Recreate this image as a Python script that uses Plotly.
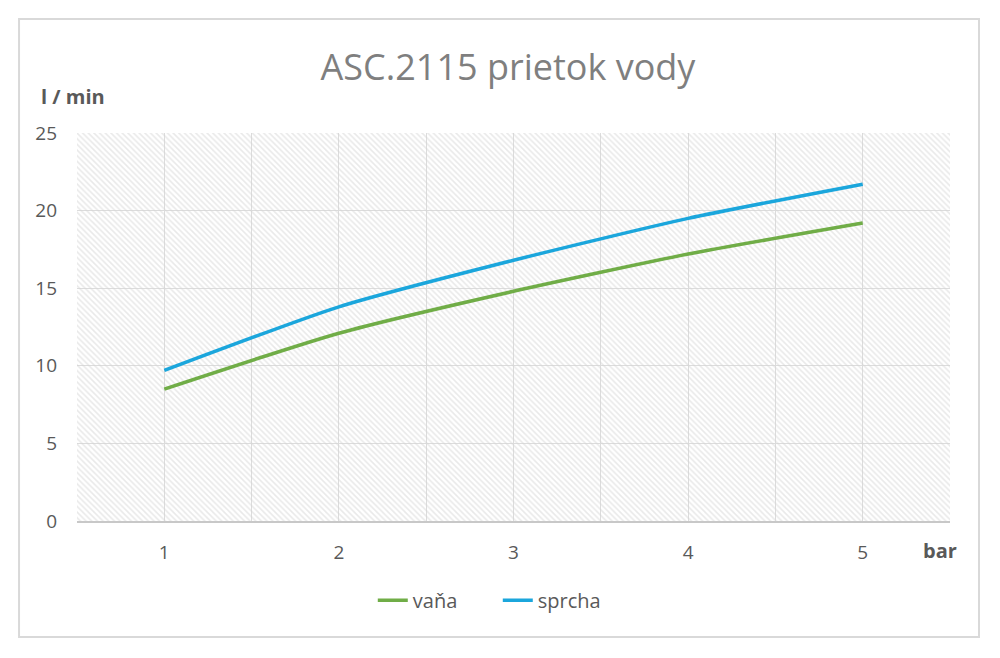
import plotly.graph_objects as go

# tlak (bar) a prietok (l/min)
tlak = [1, 2, 3, 4, 5]
vana = [8.5, 12.1, 14.8, 17.2, 19.2]
sprcha = [9.7, 13.8, 16.8, 19.5, 21.7]
grid_x = [0.5, 1, 1.5, 2, 2.5, 3, 3.5, 4, 4.5, 5, 5.5]
grid_text = ["", "1", "", "2", "", "3", "", "4", "", "5", ""]
y_ticks = [0, 5, 10, 15, 20, 25]

fig = go.Figure()

# hatched plot-area background
fig.add_trace(go.Bar(
    x=[3], y=[25], width=[5],
    marker=dict(color="rgba(0,0,0,0)", line=dict(width=0),
                pattern=dict(shape="\\", fgcolor="#d4d4d4", size=4,
                             solidity=0.4, fillmode="overlay")),
    hoverinfo="skip", showlegend=False,
))

fig.add_trace(go.Scatter(
    x=tlak, y=vana, name="vaňa", mode="lines",
    line=dict(color="#70ad47", width=3.5, shape="spline", smoothing=0.6),
))
fig.add_trace(go.Scatter(
    x=tlak, y=sprcha, name="sprcha", mode="lines",
    line=dict(color="#1ba6dc", width=3.5, shape="spline", smoothing=0.6),
))

fig.update_layout(
    width=1000, height=658,
    margin=dict(l=69, r=58, t=125, b=145),
    paper_bgcolor="white", plot_bgcolor="white",
    font=dict(family="Open Sans", color="#595959", size=19),
    title=dict(text="ASC.2115 prietok vody", x=0.5, xanchor="center",
               y=0.909, yanchor="middle",
               font=dict(size=36, color="#7f7f7f", family="Open Sans")),
    legend=dict(orientation="h", x=0.482, xanchor="center", y=-0.204,
                yanchor="middle", font=dict(size=20, color="#595959"),
                entrywidth=80, entrywidthmode="pixels"),
    showlegend=True,
    bargap=0,
)

fig.update_xaxes(
    range=[0.5, 5.5], tickvals=grid_x, ticktext=grid_text,
    showgrid=True, gridcolor="#dcdcdc", gridwidth=1,
    showline=True, linecolor="#c8c8c8", linewidth=1.5,
    ticks="", ticklabelstandoff=13, zeroline=False, fixedrange=True,
)
fig.update_yaxes(
    range=[0, 25], tickvals=y_ticks,
    showgrid=True, gridcolor="#dcdcdc", gridwidth=1,
    ticks="", ticklabelstandoff=19, zeroline=False, fixedrange=True,
)

fig.add_annotation(text="<b>l / min</b>", xref="paper", yref="paper",
                   x=-0.044, y=1.095, xanchor="left", yanchor="middle",
                   showarrow=False, font=dict(size=20, color="#595959"))
fig.add_annotation(text="<b>bar</b>", xref="paper", yref="paper",
                   x=0.989, y=-0.077, xanchor="center", yanchor="middle",
                   showarrow=False, font=dict(size=20, color="#595959"))

# outer chart border
fig.add_shape(type="rect", xref="paper", yref="paper",
              x0=-0.0664, x1=1.0332, y0=-0.299, y1=1.294,
              line=dict(color="#d9d9d9", width=2), layer="below")

fig.write_html("out.html")
